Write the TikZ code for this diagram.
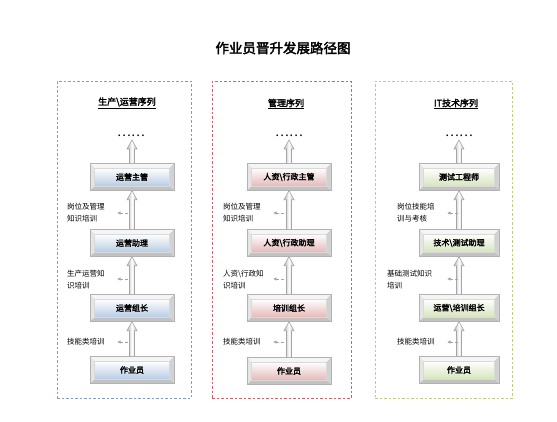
\documentclass[tikz,border=0pt]{standalone}
\usepackage{fontspec}
\newfontfamily\cjk{Noto Sans CJK SC}[AutoFakeBold=2.5]
\usetikzlibrary{calc,arrows.meta}
\definecolor{faceL}{RGB}{184,204,228}
\definecolor{faceM}{RGB}{230,185,184}
\definecolor{faceR}{RGB}{215,228,189}
\definecolor{frmL}{RGB}{130,155,190}
\definecolor{frmM}{RGB}{200,100,110}
\definecolor{frmR}{RGB}{190,205,130}
\tikzset{
 bevel/.style={draw=gray!60, fill=gray!48, minimum width=84pt, minimum height=27pt, inner sep=0pt,
   font=\cjk\bfseries\fontsize{8}{9}\selectfont,
   path picture={
     \fill[gray!8] (path picture bounding box.north west) -- (path picture bounding box.north east)
        -- ([shift={(-4.5pt,-4.5pt)}]path picture bounding box.north east)
        -- ([shift={(4.5pt,-4.5pt)}]path picture bounding box.north west) -- cycle;
     \fill[gray!20] (path picture bounding box.north west) -- ([shift={(4.5pt,-4.5pt)}]path picture bounding box.north west)
        -- ([shift={(4.5pt,4.5pt)}]path picture bounding box.south west) -- (path picture bounding box.south west) -- cycle;
     \fill[gray!35] (path picture bounding box.north east) -- ([shift={(-4.5pt,-4.5pt)}]path picture bounding box.north east)
        -- ([shift={(-4.5pt,4.5pt)}]path picture bounding box.south east) -- (path picture bounding box.south east) -- cycle;
     \shade[top color=white, bottom color=#1, draw=gray!30]
        ([shift={(4.5pt,-4.5pt)}]path picture bounding box.north west) rectangle ([shift={(-4.5pt,4.5pt)}]path picture bounding box.south east);
   }},
 frame/.style={draw=#1, dashed, dash pattern=on 2.5pt off 2pt, line width=0.7pt, inner sep=0pt},
 heading/.style={font=\cjk\bfseries\fontsize{9}{10}\selectfont, inner sep=0pt},
 dotsnode/.style={font=\cjk\fontsize{13}{13}\selectfont, inner sep=1pt},
 sidetxt/.style={font=\cjk\fontsize{7.5}{12}\selectfont, align=left, anchor=west, inner sep=0pt},
 smallarr/.style={draw=gray!70, line width=0.8pt, dash pattern=on 3pt off 2pt, -{Latex[length=3.5pt,width=3.5pt]}},
 bigarr/.style={draw=gray!70, line width=0.6pt, left color=gray!55, right color=gray!55, middle color=white},
}
\newcommand\uparr[2]{%
  \path[bigarr] let \p1=(#1.north), \p2=(#2) in
   (\x1-2.5pt,\y1) -- (\x1-2.5pt,\y2-9pt) -- (\x1-5pt,\y2-9pt) -- (\x1,\y2)
   -- (\x1+5pt,\y2-9pt) -- (\x1+2.5pt,\y2-9pt) -- (\x1+2.5pt,\y1) -- cycle;}
\begin{document}
\begin{tikzpicture}[x=1pt,y=-1pt]
\useasboundingbox[fill=white] (0,0) rectangle (557,421);
% title
\node[font=\cjk\bfseries\fontsize{13.5}{14}\selectfont, inner sep=0pt] (title) at (283,48) {作业员晋升发展路径图};
% frames
\node[frame=frmL, minimum width=134pt, minimum height=317pt] (fL) at (124,239.5) {};
\node[frame=frmM, minimum width=139pt, minimum height=317pt] (fM) at (281.5,239.5) {};
\node[frame=frmR, minimum width=137pt, minimum height=317pt] (fR) at (443.5,239.5) {};
% headings
\node[heading] (hL) at (127,103) {\underline{生产\textbackslash 运营序列}};
\node[heading] (hM) at (286,104) {\underline{管理序列}};
\node[heading] (hR) at (456,104) {\underline{IT技术序列}};
% dots
\node[dotsnode] (dL) at (131,136) {……};
\node[dotsnode] (dM) at (289,136) {……};
\node[dotsnode] (dR) at (459,136) {……};
\coordinate (tL) at (131,140);
\coordinate (tM) at (289,140);
\coordinate (tR) at (459,140);
% left column
\node[bevel=faceL] (L4) at (132,177) {运营主管};
\node[bevel=faceL] (L3) at (132,243) {运营助理};
\node[bevel=faceL] (L2) at (132,308) {运营组长};
\node[bevel=faceL] (L1) at (132,370) {作业员};
% middle column
\node[bevel=faceM] (M4) at (289,177) {人资\textbackslash 行政主管};
\node[bevel=faceM] (M3) at (289,243) {人资\textbackslash 行政助理};
\node[bevel=faceM] (M2) at (289,308) {培训组长};
\node[bevel=faceM] (M1) at (289,371) {作业员};
% right column
\node[bevel=faceR, minimum width=80pt] (R4) at (459,177) {测试工程师};
\node[bevel=faceR, minimum width=80pt] (R3) at (459,243) {技术\textbackslash 测试助理};
\node[bevel=faceR, minimum width=80pt] (R2) at (459,308) {运营\textbackslash 培训组长};
\node[bevel=faceR, minimum width=80pt] (R1) at (459,370) {作业员};
% big arrows
\uparr{L1}{L2.south} \uparr{L2}{L3.south} \uparr{L3}{L4.south} \uparr{L4}{tL}
\uparr{M1}{M2.south} \uparr{M2}{M3.south} \uparr{M3}{M4.south} \uparr{M4}{tM}
\uparr{R1}{R2.south} \uparr{R2}{R3.south} \uparr{R3}{R4.south} \uparr{R4}{tR}
% side labels
\node[sidetxt] (sL3) at (67,213) {岗位及管理\\知识培训};
\node[sidetxt] (sL2) at (67,280) {生产运营知\\识培训};
\node[sidetxt] (sL1) at (67,342) {技能类培训};
\node[sidetxt] (sM3) at (223,213) {岗位及管理\\知识培训};
\node[sidetxt] (sM2) at (223,280) {人资\textbackslash 行政知\\识培训};
\node[sidetxt] (sM1) at (223,342) {技能类培训};
\node[sidetxt] (sR3) at (397,213) {岗位技能培\\训与考核};
\node[sidetxt] (sR2) at (387,280) {基础测试知识\\培训};
\node[sidetxt] (sR1) at (397,342) {技能类培训};
% small arrows
\foreach \n/\x/\y in {aL3/128/213, aL2/128/279, aL1/128/342, aM3/284/213, aM2/284/279, aM1/284/342, aR3/458/213, aR2/458/279, aR1/458/342}{
  \coordinate (\n) at (\x,\y);
  \draw[smallarr] (\n) -- ++(-11,0);
}
\end{tikzpicture}
\end{document}
